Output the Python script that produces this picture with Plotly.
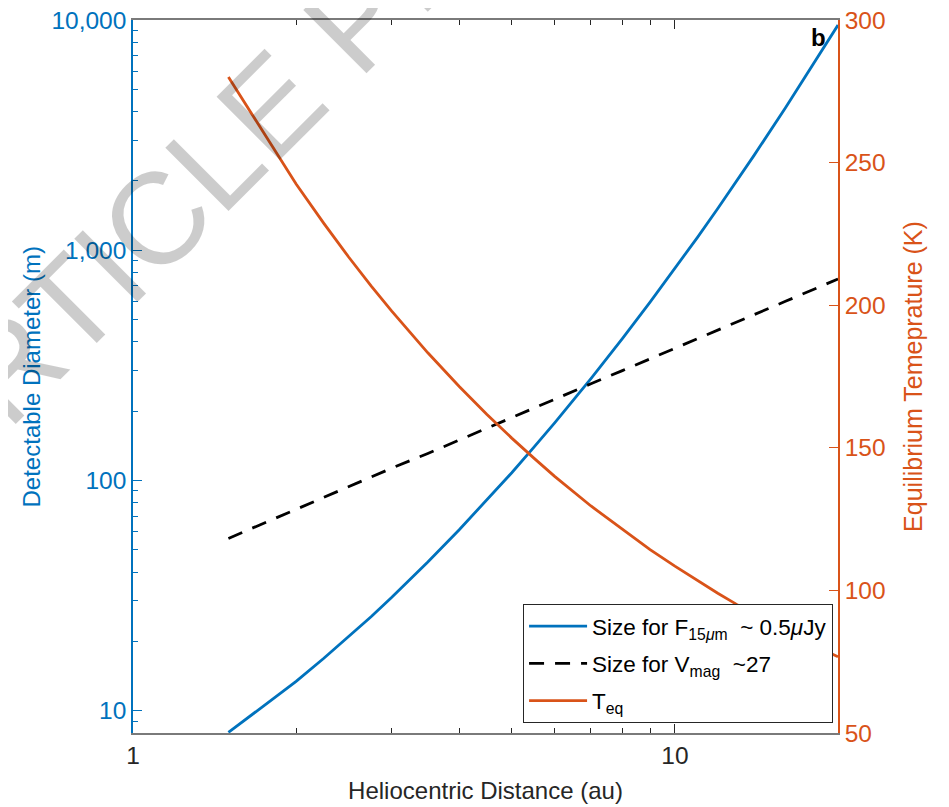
import plotly.graph_objects as go

# Heliocentric distance (au)
r_au = [1.5, 2, 2.25, 2.5, 2.75, 3, 3.5, 4, 4.5, 5, 5.5, 6, 7, 8, 9, 10, 11, 12, 13, 14, 16, 18, 20]
# Detectable diameter (m) for F_15um ~ 0.5 uJy
d_mir = [8.05, 13.4, 16.9, 21.0, 25.6, 31.0, 44.2, 61.1, 82.2, 108, 140, 178, 277, 413, 595, 832,
         1135, 1519, 1996, 2583, 4155, 6401, 9506]
# Detectable diameter (m) for V_mag ~ 27
d_vis = [56, 75, 84, 94, 103, 113, 131, 150, 169, 188, 206, 225, 263, 300, 338, 375,
         413, 450, 488, 525, 600, 675, 750]
# Equilibrium temperature (K)
t_eq = [280.0, 242.5, 228.7, 216.9, 206.8, 198.0, 183.3, 171.5, 161.7, 153.4, 146.3, 140.0,
        129.6, 121.3, 114.3, 108.5, 103.4, 99.0, 95.1, 91.7, 85.8, 80.8, 76.7]

left_ticks = [10, 100, 1000, 10000]
left_ticktext = ["10", "100", "1,000", "10,000"]
right_ticks = [50, 100, 150, 200, 250, 300]
x_ticks = [1, 10]
x_ticktext = ["1", "10"]

BLUE = "#0072BD"
ORANGE = "#D95319"
DARK = "#262626"
FONT = "Liberation Sans, Arial, Helvetica, sans-serif"

x_minor = [2, 3, 4, 5, 6, 7, 8, 9]
y_minor = [m * 10 ** k for k in range(0, 4) for m in range(2, 10) if 8 <= m * 10 ** k < 10000]

fig = go.Figure()
fig.add_trace(go.Scatter(
    x=r_au, y=d_mir, mode="lines", line=dict(color=BLUE, width=2.8),
    name="Size for F<sub>15<i>μ</i>m</sub>  ~ 0.5<i>μ</i>Jy", yaxis="y", legendgroup="a"))
fig.add_trace(go.Scatter(
    x=r_au, y=d_vis, mode="lines", line=dict(color="black", width=2.8, dash="15px,11px"),
    name="Size for V<sub>mag</sub>  ~27", yaxis="y", legendgroup="b"))
fig.add_trace(go.Scatter(
    x=r_au, y=t_eq, mode="lines", line=dict(color=ORANGE, width=2.8),
    name="T<sub>eq</sub>", yaxis="y2", legendgroup="c"))

fig.update_layout(
    width=941, height=799,
    margin=dict(l=125, r=111, t=12, b=74, autoexpand=False),
    paper_bgcolor="white", plot_bgcolor="white",
    font=dict(family=FONT, size=22, color=DARK),
    showlegend=True,
    legend=dict(
        x=0.993, xanchor="right", y=0.014, yanchor="bottom",
        bgcolor="white", bordercolor=DARK, borderwidth=1,
        font=dict(family=FONT, size=22.5, color="black"),
        itemwidth=58, tracegroupgap=5,
    ),
    xaxis=dict(
        type="log", range=[0, 1.30103], automargin=False, ticklabeloverflow="allow",
        tickvals=x_ticks, ticktext=x_ticktext,
        ticks="inside", ticklen=9, tickcolor=DARK, tickwidth=1,
        minor=dict(tickvals=x_minor, ticks="inside", ticklen=5, tickcolor=DARK, showgrid=False),
        showline=True, linecolor="#7a7a7a", linewidth=1.5, mirror="ticks",
        showgrid=False, zeroline=False,
        tickfont=dict(size=24.5, color=DARK),
        title=dict(text="Heliocentric Distance (au)", font=dict(size=24, color=DARK), standoff=14),
    ),
    yaxis=dict(
        type="log", range=[0.90309, 4], automargin=False, ticklabeloverflow="allow",
        tickvals=left_ticks, ticktext=left_ticktext,
        ticks="inside", ticklen=9, tickcolor=BLUE, tickwidth=1,
        minor=dict(tickvals=y_minor, ticks="inside", ticklen=5, tickcolor=BLUE, showgrid=False),
        showline=True, linecolor=BLUE, linewidth=1.5,
        showgrid=False, zeroline=False,
        tickfont=dict(size=24.5, color=BLUE),
    ),
    yaxis2=dict(
        overlaying="y", side="right", range=[50, 300], automargin=False, ticklabeloverflow="allow",
        tickvals=right_ticks,
        ticks="inside", ticklen=9, tickcolor=ORANGE, tickwidth=1,
        showline=True, linecolor=ORANGE, linewidth=1.5,
        showgrid=False, zeroline=False,
        tickfont=dict(size=24.5, color=ORANGE),
        title=dict(text="Equilibrium Temeprature (K)", font=dict(size=25, color=ORANGE), standoff=20),
    ),
    annotations=[
        dict(text="Detectable Diameter (m)", xref="paper", yref="paper", x=-0.1433, y=0.5,
             xanchor="center", yanchor="middle", showarrow=False, textangle=-90,
             font=dict(family=FONT, size=24, color=BLUE)),
        dict(text="<b>b</b>", xref="paper", yref="paper", x=0.972, y=0.975,
             xanchor="center", yanchor="middle", showarrow=False,
             font=dict(family=FONT, size=24, color="black")),
        dict(text="ARTICLE PREVIEW", xref="paper", yref="paper", x=0.2837, y=0.9677,
             xanchor="center", yanchor="middle", showarrow=False, textangle=-45,
             font=dict(family=FONT, size=130, color="rgba(0,0,0,0.2)")),
    ],
)

fig.write_html("out.html")
